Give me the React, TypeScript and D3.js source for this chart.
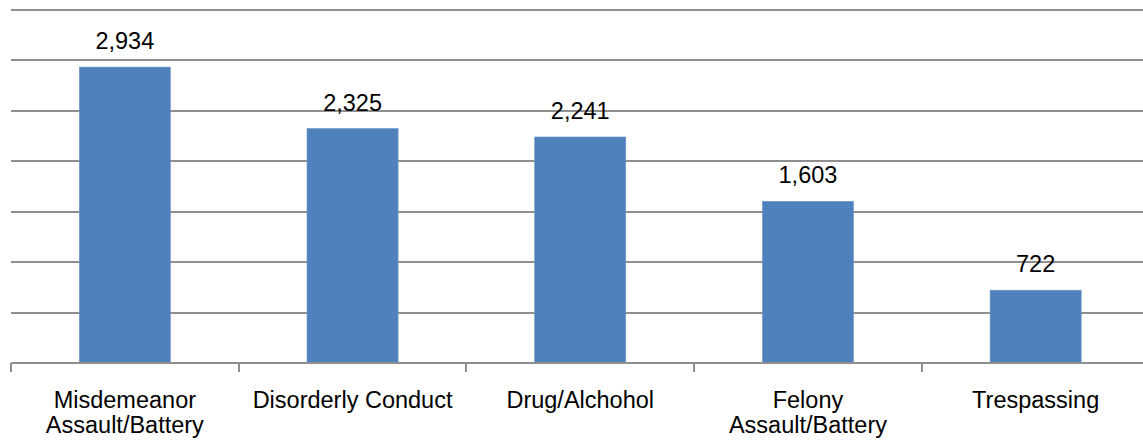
import React from "react";
import * as d3 from "d3";

const categories: string[][] = [
  ["Misdemeanor", "Assault/Battery"],
  ["Disorderly Conduct"],
  ["Drug/Alchohol"],
  ["Felony", "Assault/Battery"],
  ["Trespassing"],
];
const values: number[] = [2934, 2325, 2241, 1603, 722];
const yTicks: number[] = [0, 500, 1000, 1500, 2000, 2500, 3000, 3500];

const W = 1143;
const H = 444;

export default function App() {
  const left = 11;
  const right = 1149.5;
  const top = 10;
  const bottom = 363;
  const keys = categories.map((_, i) => String(i));
  const x = d3.scaleBand<string>().domain(keys).range([left, right]).padding(0);
  const y = d3.scaleLinear().domain([0, 3500]).range([bottom, top]);
  const bw = x.bandwidth() * 0.4;
  const fmt = d3.format(",");
  const font = "'Liberation Sans', Arial, sans-serif";
  const grid = "#8f8f8f";

  return (
    <svg
      width={W}
      height={H}
      style={{ position: "absolute", left: 0, top: 0, background: "#fff" }}
    >
      {yTicks.slice(1).map((t) => (
        <line
          key={t}
          x1={left}
          x2={W}
          y1={Math.round(y(t))}
          y2={Math.round(y(t))}
          stroke={grid}
          strokeWidth={2}
        />
      ))}
      {values.map((v, i) => {
        const cx = (x(String(i)) as number) + x.bandwidth() / 2;
        return (
          <g key={i}>
            <rect
              x={cx - bw / 2}
              y={y(v)}
              width={bw}
              height={bottom - y(v)}
              fill="#4F81BD"
              stroke="#6d98cc"
              strokeWidth={0.6}
            />
            <text
              x={cx}
              y={y(v) - 18}
              textAnchor="middle"
              fontFamily={font}
              fontSize={23.5}
              fill="#000"
            >
              {fmt(v)}
            </text>
          </g>
        );
      })}
      <line
        x1={left}
        x2={W}
        y1={bottom}
        y2={bottom}
        stroke={grid}
        strokeWidth={2}
      />
      {keys.map((k) => (
        <line
          key={k}
          x1={Math.round(x(k) as number)}
          x2={Math.round(x(k) as number)}
          y1={bottom}
          y2={bottom + 9}
          stroke={grid}
          strokeWidth={2}
        />
      ))}
      {categories.map((lines, i) => {
        const cx = (x(String(i)) as number) + x.bandwidth() / 2;
        return (
          <text
            key={i}
            textAnchor="middle"
            fontFamily={font}
            fontSize={23.5}
            fill="#000"
          >
            {lines.map((l, j) => (
              <tspan key={j} x={cx} y={408 + j * 25}>
                {l}
              </tspan>
            ))}
          </text>
        );
      })}
    </svg>
  );
}
